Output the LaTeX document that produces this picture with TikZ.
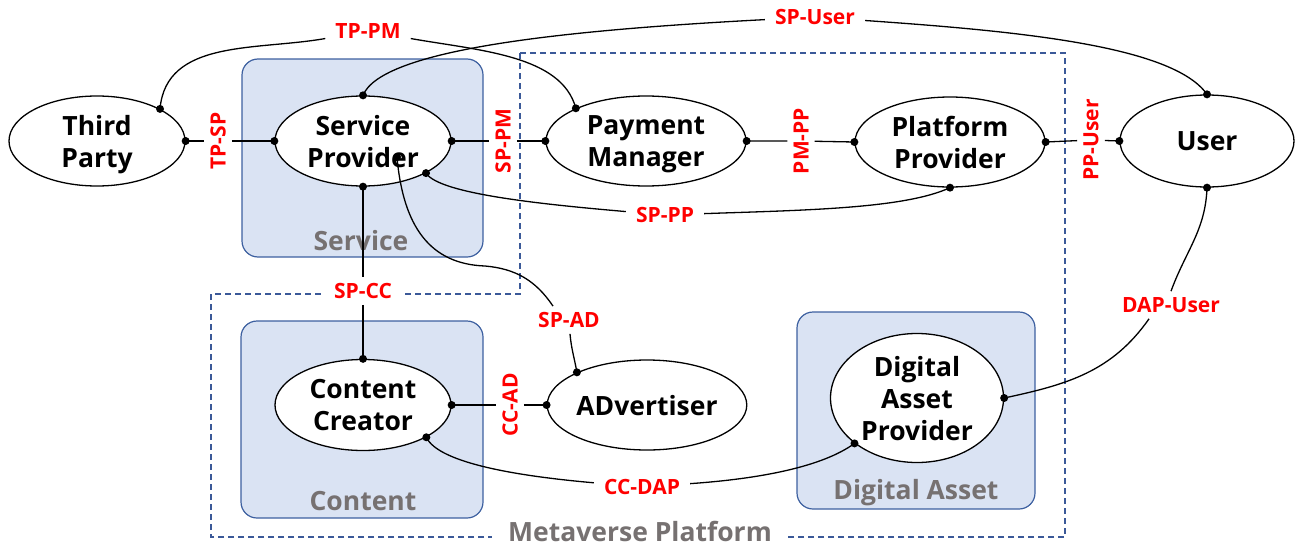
\documentclass[tikz,border=0pt]{standalone}
\usepackage{fontspec}
\setmainfont{Open Sans}
\usetikzlibrary{shapes.geometric}
\definecolor{boxfill}{RGB}{218,227,243}
\definecolor{boxline}{RGB}{61,96,160}
\definecolor{dashblue}{RGB}{59,89,152}
\definecolor{grp}{RGB}{118,113,113}
\definecolor{labred}{RGB}{255,0,0}
\begin{document}
\begin{tikzpicture}[x=1pt,y=1pt,
  ent/.style={ellipse, draw=black, fill=white, line width=1.3pt, inner sep=0pt, align=center, text depth=0pt, font=\fontsize{26.5}{32}\selectfont\bfseries},
  grpbox/.style={draw=boxline, fill=boxfill, line width=1.2pt, rounded corners=16pt},
  grplab/.style={text=grp, font=\fontsize{26.5}{32}\selectfont\bfseries, anchor=base, inner sep=0pt},
  lab/.style={text=labred, fill=white, font=\fontsize{21}{24}\selectfont\bfseries, inner xsep=10pt, inner ysep=6pt},
  vlab/.style={lab, rotate=90, inner xsep=4pt, inner ysep=6pt},
  conn/.style={line width=1.3pt, draw=black},
  platform/.style={draw=dashblue, line width=1.2pt, dash pattern=on 6pt off 4pt}
]
\useasboundingbox (0,0) rectangle (1295,-546);
% group boxes
\draw[grpbox] (242,-59) rectangle (483,-257);
\draw[grpbox] (241,-321) rectangle (483,-518);
\draw[grpbox] (797,-312) rectangle (1035,-509);
\draw[platform] (520,-53) -- (1065,-53) -- (1065,-537) -- (211,-537) -- (211,-294) -- (520,-294) -- cycle;
\node[grplab] (svclab) at (361,-250) {Service};
\node[grplab] (cntlab) at (363,-510) {Content};
\node[grplab] (dalab) at (916,-499) {Digital Asset};
\node[grplab, fill=white, inner xsep=16pt, inner ysep=3pt] (mvp) at (640,-541) {Metaverse Platform};
% entities
\node[ent, minimum width=176pt, minimum height=90pt] (tp) at (97,-141) {Third\\Party};
\node[ent, minimum width=176pt, minimum height=90pt] (sp) at (363,-141) {Service\\Provider};
\node[ent, minimum width=200pt, minimum height=90pt] (pm) at (646,-141) {Payment\\Manager};
\node[ent, minimum width=190pt, minimum height=90pt] (pp) at (950,-142) {Platform\\Provider};
\node[ent, minimum width=174pt, minimum height=92pt] (user) at (1207,-141) {User};
\node[ent, minimum width=176pt, minimum height=91pt] (cc) at (363,-405) {Content\\Creator};
\node[ent, minimum width=198pt, minimum height=90pt] (ad) at (647,-405) {ADvertiser};
\node[ent, minimum width=173pt, minimum height=129pt] (dap) at (917,-398) {Digital\\Asset\\Provider};
% labels
\node[lab] (tppm) at (368,-31) {TP-PM};
\node[lab] (spuser) at (815,-17) {SP-User};
\node[vlab] (tpsp) at (218,-141) {TP-SP};
\node[vlab] (sppm) at (503,-141) {SP-PM};
\node[vlab] (pmpp) at (801,-141) {PM-PP};
\node[vlab] (ppuser) at (1091,-140) {PP-User};
\node[lab] (sppp) at (665,-215) {SP-PP};
\node[lab] (spcc) at (363,-291) {SP-CC};
\node[lab] (spad) at (569,-320) {SP-AD};
\node[vlab] (ccad) at (510,-405) {CC-AD};
\node[lab] (ccdap) at (642,-487) {CC-DAP};
\node[lab] (dapuser) at (1171,-305) {DAP-User};
\coordinate (spin) at (397,-157);
\coordinate (spadvia) at (485,-266);
% connectors
\draw[conn] (tp.east) -- (tpsp) -- (sp.west);
\draw[conn] (sp.east) -- (sppm) -- (pm.west);
\draw[conn] (pm.east) -- (pmpp) -- (pp.west);
\draw[conn] (pp.east) -- (ppuser) -- (user.west);
\draw[conn] (sp.south) -- (spcc) -- (cc.north);
\draw[conn] (cc.east) -- (ccad) -- (ad.west);
\draw[conn] (tp.27) to[out=85,in=190] (tppm) to[out=-10,in=105,in distance=55pt] (pm.155);
\draw[conn] (sp.north) to[out=68,in=183,out distance=50pt,in distance=200pt] (spuser) to[out=-4,in=125,out distance=150pt,in distance=60pt] (user.north);
\draw[conn] (sp.-27.5) to[out=-58,in=175,out distance=25pt] (sppp) to[out=2,in=205,out distance=100pt,in distance=50pt] (pp.south);
\draw[conn] (spin) to[out=-85,in=178,out distance=70pt] (spadvia) to[out=-5,in=124] ([xshift=-16pt]spad.north);
\draw[conn] ([xshift=1pt]spad.south) to[out=-85,in=100] (ad.155);
\draw[conn] (cc.-27.7) to[out=-65,in=175,out distance=30pt] (ccdap) to[out=4,in=216,out distance=70pt,in distance=40pt] (dap.216);
\draw[conn] (user.south) to[out=-92,in=70] (dapuser.north);
\draw[conn] ([xshift=-22pt]dapuser.south) to[out=-125,in=12] (dap.east);
% dots
\foreach \p in {tp.27, tp.east, sp.north, sp.west, sp.east, sp.south, sp.-27.5, spin, pm.155, pm.west, pm.east, pp.west, pp.east, pp.south, user.north, user.west, user.south, cc.north, cc.east, cc.-27.7, ad.west, ad.155, dap.east, dap.216}
  \fill[black] (\p) circle (4pt);
\end{tikzpicture}
\end{document}
